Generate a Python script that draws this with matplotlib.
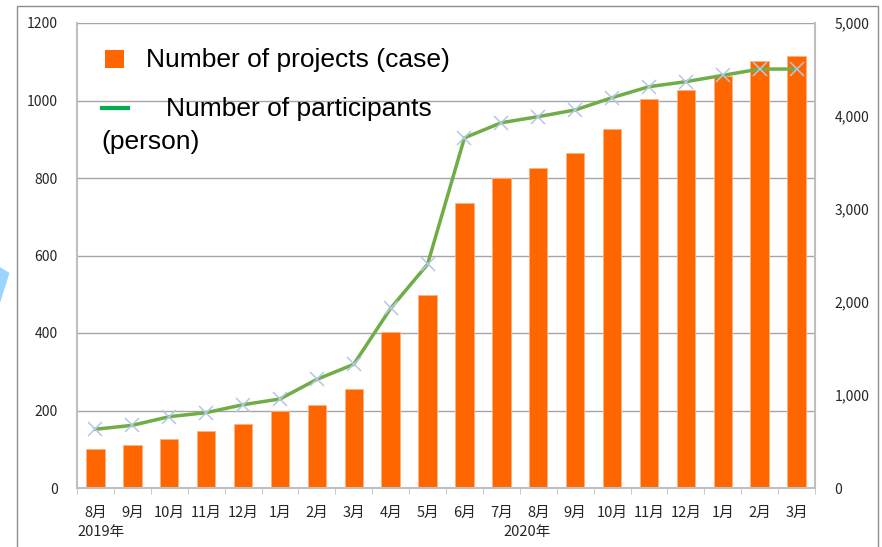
import numpy as np
import matplotlib
matplotlib.use("Agg")
import matplotlib.pyplot as plt
from matplotlib.patches import Rectangle, Polygon
from matplotlib.lines import Line2D
from matplotlib.ticker import FuncFormatter

plt.rcParams['font.family'] = ['Noto Sans CJK JP', 'DejaVu Sans']

# Data
months = ["8月", "9月", "10月", "11月", "12月", "1月", "2月", "3月", "4月", "5月",
          "6月", "7月", "8月", "9月", "10月", "11月", "12月", "1月", "2月", "3月"]
projects = [100, 111, 126, 147, 165, 200, 213, 255, 403, 498,
            736, 800, 826, 865, 926, 1004, 1027, 1062, 1101, 1116]
participants = [632, 674, 767, 810, 896, 957, 1168, 1330, 1932, 2405,
                3765, 3928, 3993, 4065, 4197, 4315, 4369, 4437, 4505, 4505]
year_labels = ["2019年", "2020年"]

W, H = 882, 547
fig = plt.figure(figsize=(W / 100, H / 100), dpi=100)

# slide frame and the clipped arrow on the left
fig.patches.append(Rectangle((17 / W, -0.05), (878 - 17) / W, 1.05 - 6 / H,
                             transform=fig.transFigure, fill=False,
                             edgecolor="#8C8C8C", lw=1))
fig.patches.append(Polygon([(0, 1 - 267 / H), (9.5 / W, 1 - 273 / H), (0, 1 - 303 / H)],
                           closed=True, transform=fig.transFigure,
                           facecolor="#99D5FF", edgecolor="none"))

ax = fig.add_axes([77 / W, (H - 488) / H, (815 - 77) / W, (488 - 23) / H])
x = np.arange(len(months))

ax.bar(x, projects, width=0.5, color="#FF6600", edgecolor="#FFB27F", lw=0.6, zorder=2)
ax.set_xlim(-0.5, len(months) - 0.5)
ax.set_ylim(0, 1200)
ax.set_yticks(np.arange(0, 1201, 200))
ax.yaxis.grid(True, color="#A6A6A6", lw=1)
ax.set_axisbelow(True)

ax.set_xticks(x)
ax.set_xticklabels(months, fontsize=10.5, color="#262626")
ax.set_xticks(np.arange(-0.5, len(months)), minor=True)
ax.tick_params(axis="x", which="major", length=0, pad=13)
ax.tick_params(axis="x", which="minor", length=4, color="#BFBFBF")
ax.tick_params(axis="y", length=0, pad=14, labelsize=10, labelcolor="#262626")

for s in ["left", "bottom"]:
    ax.spines[s].set_color("#BFBFBF")
    ax.spines[s].set_linewidth(1.5)
ax.spines["top"].set_visible(False)
ax.spines["right"].set_visible(False)

ax2 = ax.twinx()
ax2.plot(x, participants, color="#70AD47", lw=2.5, zorder=3)
ax2.plot(x, participants, ls="none", marker="x", ms=10, mew=1.1,
         color="#B4C7E7", zorder=4)
ax2.set_ylim(0, 5000)
ax2.set_yticks(np.arange(0, 5001, 1000))
ax2.yaxis.set_major_formatter(FuncFormatter(lambda v, p: f"{int(v):,}"))
ax2.tick_params(axis="y", length=0, pad=14, labelsize=10, labelcolor="#262626")
for s in ["left", "top", "bottom"]:
    ax2.spines[s].set_visible(False)
ax2.spines["right"].set_color("#BFBFBF")
ax2.spines["right"].set_linewidth(1.5)

# year labels under the month labels
ax.text(-0.5, -0.095, year_labels[0], transform=ax.get_xaxis_transform(),
        ha="left", va="center", fontsize=10.5, color="#262626")
ax.text(11.7, -0.095, year_labels[1], transform=ax.get_xaxis_transform(),
        ha="center", va="center", fontsize=10.5, color="#262626")

# legend drawn by hand to keep the wrapped second entry
lf = ["Liberation Sans", "DejaVu Sans"]
fig.patches.append(Rectangle((105 / W, 1 - 68 / H), 19 / W, 18 / H,
                             transform=fig.transFigure, facecolor="#FF6600",
                             edgecolor="none"))
fig.text(146 / W, 1 - 60 / H, "Number of projects (case)", fontsize=19,
         family=lf, ha="left", va="center")
fig.lines.append(Line2D([102 / W, 128 / W], [1 - 108 / H, 1 - 108 / H],
                        transform=fig.transFigure, color="#00B050", lw=3))
fig.text(166 / W, 1 - 109 / H, "Number of participants", fontsize=19,
         family=lf, ha="left", va="center")
fig.text(101 / W, 1 - 142 / H, "(person)", fontsize=19,
         family=lf, ha="left", va="center")

fig.savefig("out.png", dpi=100)
